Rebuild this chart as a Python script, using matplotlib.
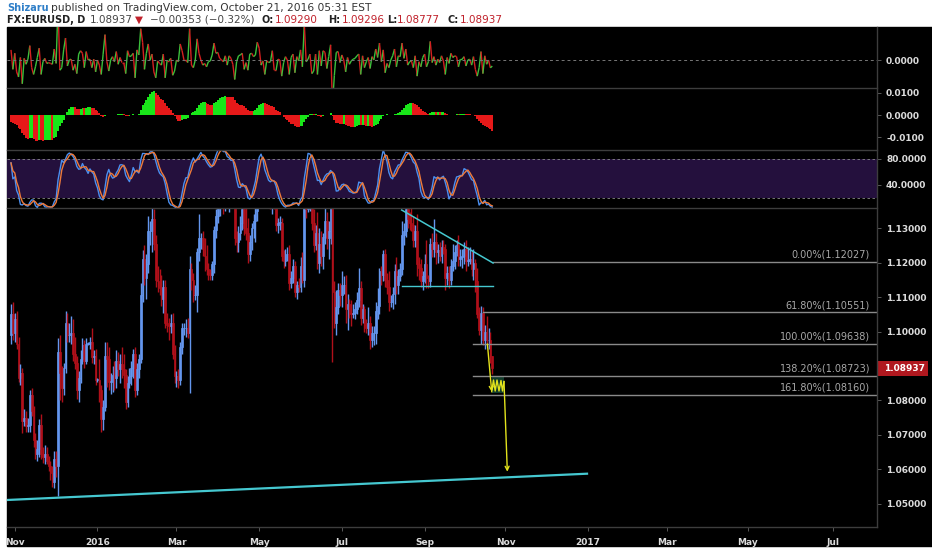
import numpy as np
import pandas as pd
import matplotlib
matplotlib.use("Agg")
import matplotlib.pyplot as plt
import matplotlib.transforms as mtrans
from matplotlib.collections import LineCollection
from matplotlib.patches import Rectangle

W, H = 932, 550

# EURUSD daily closes, one per weekday, 29 Oct 2015 .. 21 Oct 2016
closes = [
    1.1050, 1.0995,
    # Nov 2015
    1.1035, 1.0965, 1.0865, 1.0880, 1.0740, 1.0750, 1.0725, 1.0730, 1.0815, 1.0770,
    1.0685, 1.0645, 1.0660, 1.0730, 1.0645, 1.0635, 1.0645, 1.0625, 1.0610, 1.0590, 1.0565,
    # Dec
    1.0630, 1.0610, 1.0940, 1.0880, 1.0835, 1.0895, 1.1025, 1.0990, 1.0990, 1.0995, 1.0935,
    1.0910, 1.0830, 1.0865, 1.0920, 1.0960, 1.0915, 1.0965, 1.0965, 1.0970, 1.0925, 1.0930, 1.0860,
    # Jan 2016
    1.0860, 1.0830, 1.0745, 1.0780, 1.0930, 1.0920, 1.0855, 1.0855, 1.0875, 1.0865, 1.0915,
    1.0890, 1.0905, 1.0890, 1.0875, 1.0795, 1.0850, 1.0870, 1.0895, 1.0935, 1.0830,
    # Feb
    1.0890, 1.0920, 1.1105, 1.1210, 1.1155, 1.1195, 1.1290, 1.1290, 1.1325, 1.1255, 1.1150,
    1.1145, 1.1125, 1.1095, 1.1130, 1.1025, 1.1020, 1.1015, 1.1025, 1.0935, 1.0870,
    # Mar
    1.0870, 1.0860, 1.0955, 1.1010, 1.1010, 1.1010, 1.0995, 1.1180, 1.1150, 1.1105, 1.1105,
    1.1230, 1.1270, 1.1270, 1.1240, 1.1220, 1.1180, 1.1170, 1.1165, 1.1195, 1.1295, 1.1335, 1.1380,
    # Apr
    1.1390, 1.1390, 1.1380, 1.1405, 1.1375, 1.1400, 1.1410, 1.1385, 1.1270, 1.1260, 1.1285,
    1.1315, 1.1355, 1.1300, 1.1285, 1.1225, 1.1260, 1.1300, 1.1320, 1.1350, 1.1455,
    # May
    1.1525, 1.1495, 1.1490, 1.1405, 1.1400, 1.1385, 1.1375, 1.1430, 1.1370, 1.1310, 1.1315,
    1.1315, 1.1220, 1.1205, 1.1225, 1.1225, 1.1140, 1.1155, 1.1190, 1.1115, 1.1135, 1.1130,
    # Jun
    1.1190, 1.1150, 1.1365, 1.1355, 1.1360, 1.1395, 1.1315, 1.1250, 1.1285, 1.1200, 1.1255,
    1.1220, 1.1275, 1.1320, 1.1270, 1.1290, 1.1380, 1.1115, 1.1025, 1.1070, 1.1120, 1.1105,
    # Jul
    1.1135, 1.1135, 1.1065, 1.1080, 1.1055, 1.1050, 1.1055, 1.1065, 1.1090, 1.1125, 1.1040,
    1.1065, 1.1020, 1.1010, 1.1025, 1.0975, 1.0995, 1.0995, 1.1060, 1.1075, 1.1175,
    # Aug
    1.1165, 1.1225, 1.1150, 1.1130, 1.1085, 1.1085, 1.1110, 1.1175, 1.1135, 1.1160, 1.1180,
    1.1280, 1.1290, 1.1355, 1.1325, 1.1315, 1.1310, 1.1265, 1.1290, 1.1195, 1.1185, 1.1145, 1.1160,
    # Sep
    1.1195, 1.1155, 1.1145, 1.1255, 1.1240, 1.1260, 1.1230, 1.1235, 1.1220, 1.1245, 1.1240,
    1.1155, 1.1170, 1.1150, 1.1190, 1.1205, 1.1230, 1.1250, 1.1210, 1.1215, 1.1220, 1.1240,
    # Oct
    1.1205, 1.1205, 1.1210, 1.1180, 1.1200, 1.1145, 1.1050, 1.1005, 1.1055, 1.0975,
    1.1000, 1.0975, 1.0975, 1.0929, 1.08937,
]
first_open = 1.0990

# wick lengths in pips above / below each candle body
wick_up = [
    30, 35,
    20, 25, 20, 25, 15, 25, 20, 20, 15, 20, 15, 20, 25, 15, 30, 20, 25, 20, 15, 15, 20,
    25, 25, 41, 50, 20, 15, 35, 30, 35, 50, 40, 50, 20, 20, 25, 20, 15, 15, 5, 15, 40, 15, 20,
    5, 60, 15, 20, 40, 40, 35, 25, 25, 40, 30, 25, 30, 50, 45, 15, 20, 25, 20, 15, 20,
    20, 15, 35, 25, 40, 30, 45, 30, 50, 30, 25, 40, 35, 40, 20, 20, 30, 20, 25, 30, 25,
    15, 20, 15, 15, 15, 25, 30, 38, 20, 20, 30, 12, 70, 15, 20, 30, 30, 20, 10, 10, 10, 20, 20,
    20, 20, 30, 15, 60, 20, 30, 60, 80, 20, 20, 20, 40, 45, 110, 45, 20, 15, 20, 45, 10,
    10, 91, 15, 20, 15, 20, 20, 20, 15, 25, 15, 20, 15, 15, 15, 20, 25, 20, 20, 15, 10, 20,
    25, 40, 10, 40, 40, 20, 20, 40, 25, 60, 45, 35, 10, 60, 25, 30, 47, 47, 30, 50, 20, 20,
    40, 25, 30, 30, 15, 35, 25, 20, 25, 60, 20, 15, 10, 15, 45, 20, 20, 20, 25, 50, 10,
    15, 10, 15, 20, 45, 20, 20, 20, 40, 20, 20, 40, 25, 11, 20, 20, 45, 25, 20, 50, 20, 25, 15,
    30, 70, 10, 15, 30, 67, 25, 20, 25, 20, 20, 15, 20, 20, 20, 50, 20, 15, 30, 25, 20, 20,
    25, 40, 35, 25, 40, 10, 40, 20, 20, 15, 20, 45, 35, 25, 0,
]
wick_dn = [
    25, 20,
    25, 15, 10, 20, 33, 15, 15, 15, 20, 15, 20, 15, 20, 25, 15, 15, 20, 10, 15, 20, 15,
    20, 33, 86, 80, 40, 20, 15, 20, 20, 25, 20, 20, 25, 35, 15, 15, 20, 10, 5, 15, 15, 20, 15,
    5, 35, 35, 30, 10, 80, 25, 35, 30, 35, 30, 20, 40, 25, 40, 20, 15, 15, 25, 30, 20,
    15, 25, 10, 20, 20, 60, 25, 40, 60, 20, 20, 30, 20, 20, 40, 15, 20, 40, 20, 15, 20,
    30, 25, 15, 20, 20, 25, 15, 173, 30, 20, 15, 48, 25, 30, 20, 45, 15, 20, 15, 15, 25, 25, 20,
    45, 15, 40, 30, 15, 30, 20, 15, 20, 30, 30, 20, 20, 20, 20, 25, 20, 25, 30, 60, 30,
    30, 15, 20, 15, 25, 20, 20, 35, 15, 20, 25, 20, 15, 20, 15, 20, 20, 15, 15, 15, 20, 15,
    15, 10, 20, 25, 10, 10, 20, 20, 15, 20, 30, 30, 40, 20, 30, 60, 35, 203, 15, 35, 20, 30,
    35, 25, 40, 60, 15, 35, 10, 20, 15, 20, 20, 15, 20, 15, 20, 25, 20, 35, 30, 25, 25,
    30, 20, 20, 20, 25, 15, 20, 30, 25, 25, 15, 15, 30, 15, 25, 20, 20, 20, 20, 35, 35, 15, 25,
    20, 30, 20, 15, 25, 25, 35, 30, 15, 20, 15, 35, 20, 25, 15, 15, 25, 10, 20, 20, 30, 25,
    30, 15, 10, 20, 30, 30, 10, 15, 40, 15, 25, 10, 25, 20, 16,
]

# x-axis month labels
tick_months = ["2015-11", "2016-01", "2016-03", "2016-05", "2016-07", "2016-09",
               "2016-11", "2017-01", "2017-03", "2017-05", "2017-07"]
tick_labels = ["Nov", "2016", "Mar", "May", "Jul", "Sep", "Nov", "2017", "Mar", "May", "Jul"]

price_ticks = [1.05, 1.06, 1.07, 1.08, 1.10, 1.11, 1.12, 1.13]

# drawings (bar index, price)
fib_levels = [0.0, 61.8, 100.0, 138.2, 161.8]
fib_prices = [1.12027, 1.10551, 1.09638, 1.08723, 1.08160]
fib_start = [256.4, 251.1, 245.7, 245.7, 245.7]
support_line = [(-2.1, 1.05116), (306.4, 1.05878)]
tri_upper = [(207.8, 1.13522), (256.4, 1.11986)]
tri_lower = [(207.8, 1.11310), (256.4, 1.11310)]
arrow1 = [(253.4, 1.09638), (255.7, 1.08255)]
wiggle_x = [255.69, 256.65, 257.55, 258.51, 259.57, 260.64, 261.44, 262.23]
wiggle_y = [1.08255, 1.08594, 1.08275, 1.08594, 1.08275, 1.08580, 1.08275, 1.08551]
arrow2 = [(262.23, 1.08551), (264.0, 1.05936)]
box = (255.9, 262.2, 1.08217, 1.08710)

n = len(closes)
dates = pd.bdate_range("2015-10-29", periods=n)
c = np.array(closes)
o = np.array([first_open] + closes[:-1])
hi = np.maximum(o, c) + np.array(wick_up) * 1e-4
lo = np.minimum(o, c) - np.array(wick_dn) * 1e-4
idx = np.arange(n)

# indicators
chg = c - o
s = pd.Series(c)
ema12 = [1.1110]
ema26 = [1.1140]
for v in c:
    ema12.append(ema12[-1] + (v - ema12[-1]) * 2 / 13)
    ema26.append(ema26[-1] + (v - ema26[-1]) * 2 / 27)
macd = np.array(ema12[1:]) - np.array(ema26[1:])
hh = pd.Series(hi).rolling(14, min_periods=1).max()
ll = pd.Series(lo).rolling(14, min_periods=1).min()
k_raw = (s - ll) / (hh - ll) * 100
k = k_raw.rolling(3, min_periods=1).mean()
d = k.rolling(3, min_periods=1).mean()

all_days = pd.bdate_range("2015-10-29", "2017-08-31")
tick_pos = [all_days.searchsorted(pd.Timestamp(m + "-01")) for m in tick_months]

BLUE = "#6496ee"
RED = "#b0101a"
TEAL = "#45c8d0"
YEL = "#e3e31c"
LBL = "#dcdcdc"
SEP = "#3d3d3d"
XL = (-2.13, 460.64)

fig = plt.figure(figsize=(W / 100, H / 100), dpi=100, facecolor="white")
fig.patches.append(Rectangle((7 / W, 1 - 546 / H), (W - 7) / W, (546 - 27) / H,
                             transform=fig.transFigure, color="black", zorder=-5))


def px_axes(x0, y0, x1, y1):
    a = fig.add_axes([x0 / W, 1 - y1 / H, (x1 - x0) / W, (y1 - y0) / H])
    a.set_facecolor("black")
    for sp in a.spines.values():
        sp.set_visible(False)
    a.set_xlim(*XL)
    a.yaxis.tick_right()
    a.tick_params(axis="y", length=3, width=0.6, color="#666666", labelcolor=LBL,
                  labelsize=6.5, pad=3.5)
    a.tick_params(axis="x", bottom=False, labelbottom=False)
    return a


def yticks(a, vals, labels):
    a.set_yticks(vals, labels=labels, fontweight="bold")


# panel 1: daily change line
ax1 = px_axes(7, 27, 877, 88)
ax1.set_ylim(-0.0165, 0.0195)
pts = np.column_stack([idx, chg])
segs = np.stack([pts[:-1], pts[1:]], axis=1)
seg_col = ["#3cc03c" if chg[i + 1] > chg[i] else "#d42020" for i in range(n - 1)]
ax1.add_collection(LineCollection(segs, colors=seg_col, linewidths=1.0))
ax1.axhline(0, color="#777777", lw=0.7, ls=(0, (3, 3)))
yticks(ax1, [0.0], ["0.0000"])

# panel 2: MACD histogram
ax2 = px_axes(7, 88, 877, 150)
ax2.set_ylim(-0.0159, 0.01227)
mcol = ["#19e619" if i > 0 and macd[i] >= macd[i - 1] else "#e61919" for i in range(n)]
ax2.bar(idx, macd, width=1.0, color=mcol, linewidth=0)
yticks(ax2, [0.01, 0.0, -0.01], ["0.0100", "0.0000", "-0.0100"])

# panel 3: stochastic
ax3 = px_axes(7, 150, 877, 208)
ax3.set_ylim(4.6, 93.8)
ax3.axhspan(20, 80, color="#24103d", lw=0)
for lvl in (20, 80):
    ax3.axhline(lvl, color="#888888", lw=0.6, ls=(0, (3, 3)))
ax3.plot(idx, k, color="#4b8ff0", lw=1.0)
ax3.plot(idx, d, color="#ee7a3a", lw=1.0)
yticks(ax3, [80, 40], ["80.0000", "40.0000"])

# main price panel
axm = px_axes(7, 208, 877, 527)
axm.set_ylim(1.04333, 1.13580)
ccol = [BLUE if c[i] >= o[i] else RED for i in range(n)]
axm.vlines(idx, lo, hi, colors=ccol, lw=1.0)
axm.bar(idx, np.maximum(np.abs(c - o), 0.0001), bottom=np.minimum(o, c),
        width=0.9, color=ccol, edgecolor=ccol, linewidth=0.5)
yticks(axm, price_ticks, [f"{p:.5f}" for p in price_ticks])
axm.set_xticks(tick_pos, labels=tick_labels, fontweight="bold")
axm.tick_params(axis="x", bottom=True, labelbottom=True, length=3, width=0.6,
                color="#666666", labelcolor=LBL, labelsize=6.5, pad=5)

for lvl, pr, x0 in zip(fib_levels, fib_prices, fib_start):
    axm.plot([x0, XL[1]], [pr, pr], color="#8a8a8a", lw=1.0)
    axm.annotate(f"{lvl:.2f}%({pr:.5f})", xy=(456.9, pr), xytext=(0, 1.5),
                 textcoords="offset points", ha="right", va="bottom",
                 color="#a8a8a8", fontsize=7)

axm.plot(*zip(*support_line), color=TEAL, lw=1.6)
axm.plot(*zip(*tri_upper), color=TEAL, lw=1.1)
axm.plot(*zip(*tri_lower), color=TEAL, lw=1.0)
axm.add_patch(Rectangle((box[0], box[2]), box[1] - box[0], box[3] - box[2],
                        color="#113a2a", lw=0, zorder=1))
axm.plot(wiggle_x, wiggle_y, color=YEL, lw=1.0)
for a0, a1 in (arrow1, arrow2):
    axm.annotate("", xy=a1, xytext=a0,
                 arrowprops=dict(arrowstyle="->", color=YEL, lw=1.0,
                                 shrinkA=0, shrinkB=0, mutation_scale=7))

# last price tag on the scale
tr = mtrans.blended_transform_factory(fig.transFigure, axm.transData)
axm.add_patch(Rectangle((878 / W, c[-1] - 0.0022), 50 / W, 0.0044, transform=tr,
                        color="#b0181f", lw=0, clip_on=False))
axm.text(884 / W, c[-1], f"{c[-1]:.5f}", transform=tr, va="center", ha="left",
         color="white", fontsize=6.5, fontweight="bold", clip_on=False)

# panel separators
for yy in (88, 150, 208):
    fig.add_artist(plt.Line2D([7 / W, 877 / W], [1 - yy / H] * 2, color=SEP, lw=1))
fig.add_artist(plt.Line2D([7 / W, 877 / W], [1 - 527 / H] * 2, color=SEP, lw=1))
fig.add_artist(plt.Line2D([877 / W] * 2, [1 - 27 / H, 1 - 527 / H], color=SEP, lw=1))

# header
fig.text(7 / W, 1 - 8 / H, "Shizaru", color="#2f7fc8", fontsize=7.0,
         fontweight="bold", va="center")
fig.text(51 / W, 1 - 8 / H, "published on TradingView.com, October 21, 2016 05:31 EST",
         color="#333333", fontsize=7.7, va="center")
head = [
    ("FX:EURUSD, D", 7, "bold", "#222222"),
    ("1.08937", 90, "normal", "#444444"),
    ("\u25bc", 135, "normal", "#c0202a"),
    ("\u22120.00353 (\u22120.32%)", 150, "normal", "#444444"),
    ("O:", 262, "bold", "#222222"),
    ("1.09290", 275, "normal", "#c0202a"),
    ("H:", 328, "bold", "#222222"),
    ("1.09296", 342, "normal", "#c0202a"),
    ("L:", 387, "bold", "#222222"),
    ("1.08777", 397, "normal", "#c0202a"),
    ("C:", 447, "bold", "#222222"),
    ("1.08937", 460, "normal", "#c0202a"),
]
for txt, xp, wt, col in head:
    fig.text(xp / W, 1 - 20 / H, txt, color=col, fontweight=wt, va="center",
             fontsize=7.0 if wt == "bold" else 7.5)

fig.savefig("out.png", dpi=100, facecolor="white")
